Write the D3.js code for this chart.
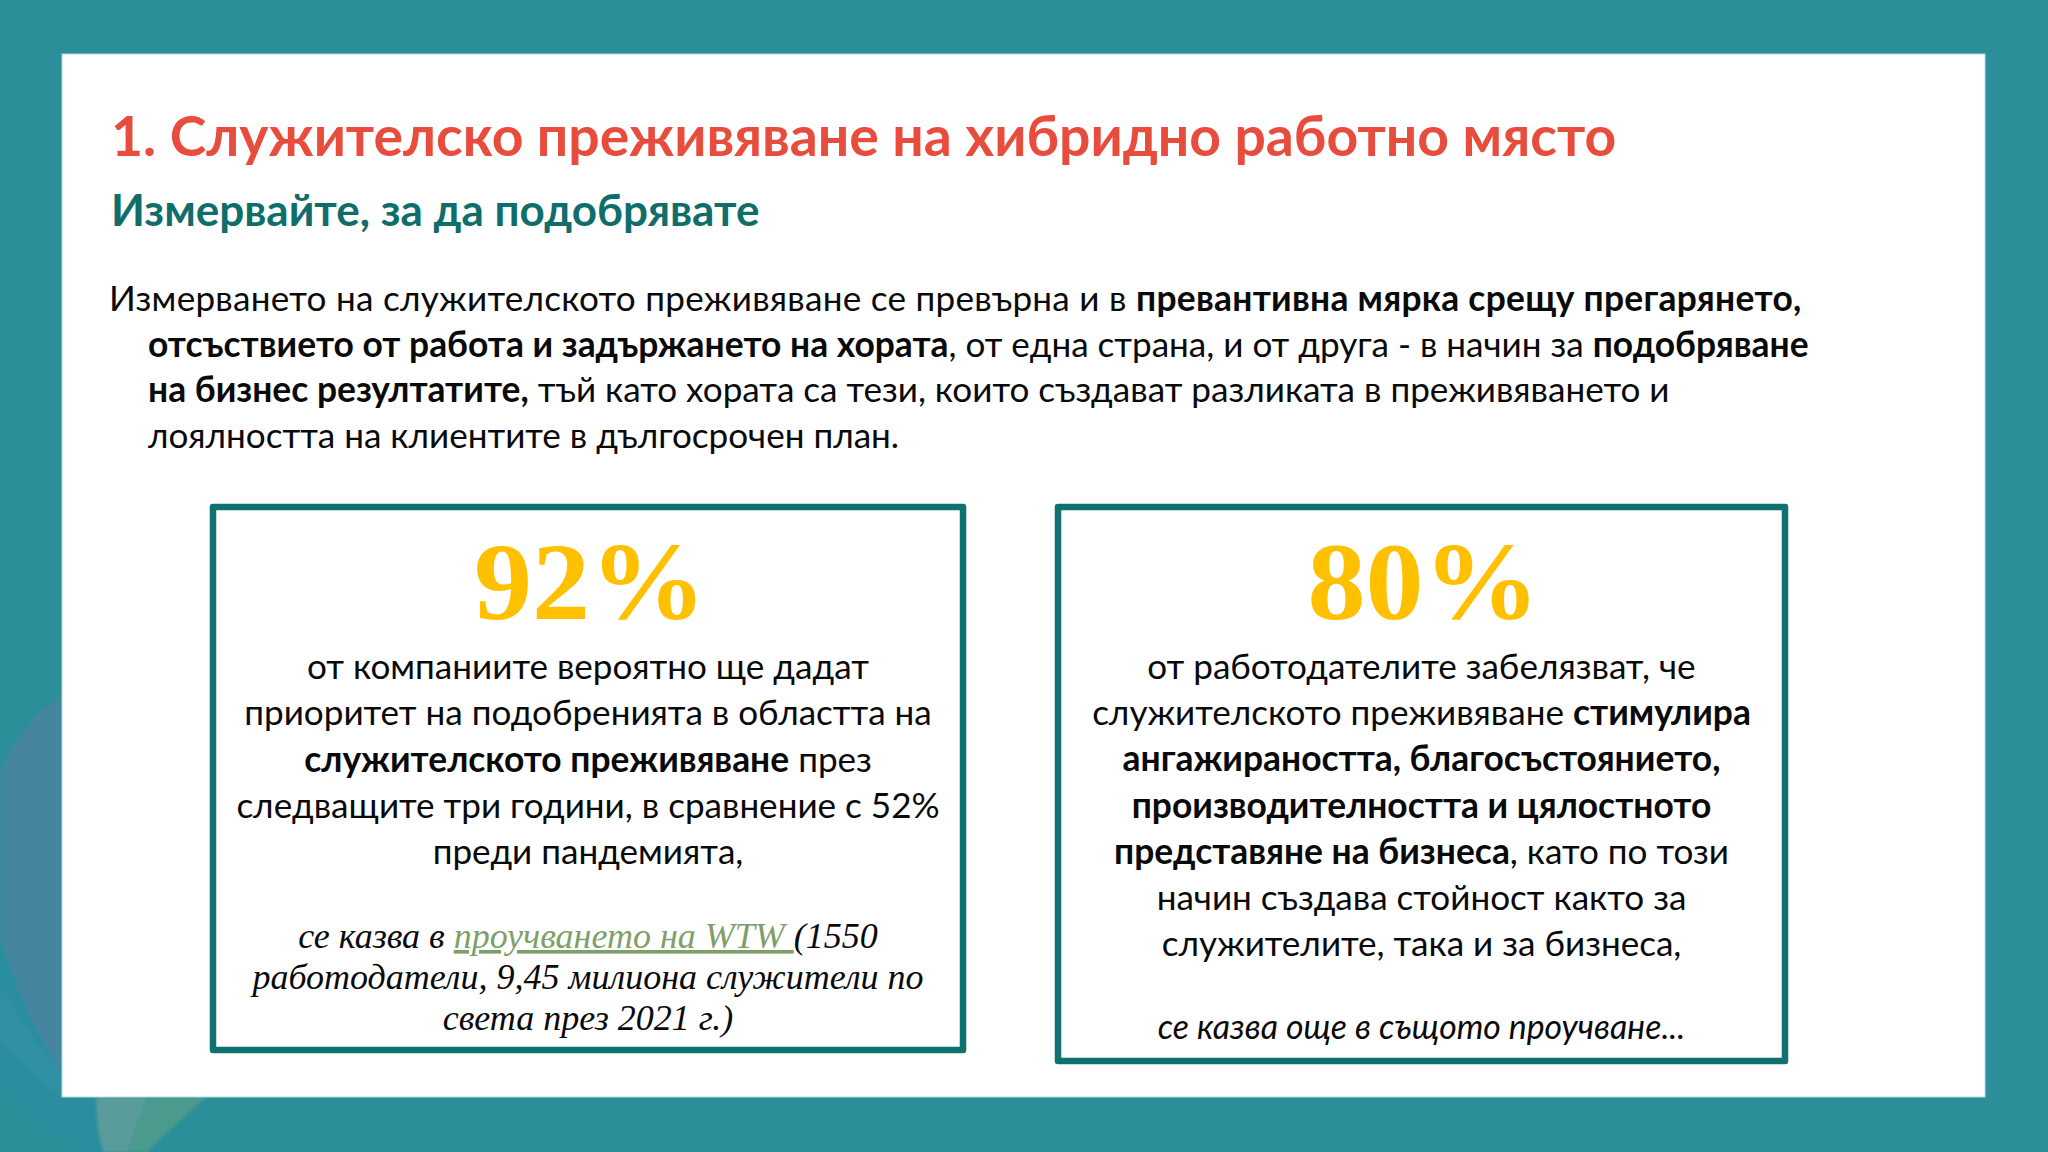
<!DOCTYPE html>
<html lang="bg">
<head>
<meta charset="utf-8">
<script src="https://cdn.jsdelivr.net/npm/d3@7"></script>
<style>
  html, body { margin: 0; padding: 0; background: #2a8f98; }
  svg { display: block; }
  text { font-family: "Lato", "Open Sans", sans-serif; }
</style>
</head>
<body>
<div id="slide"></div>
<script>
var totalWidth = 2048;
var totalHeight = 1152;

// TEXT DATA: [text, style] where style is r(egular), b(old), i(talic), l(ink)
var titleText = "1. Служителско преживяване на хибридно работно място";
var subtitleText = "Измервайте, за да подобрявате";

var bodyLines = [
  [["Измерването на служителското преживяване се превърна и в ", "r"], ["превантивна мярка срещу прегарянето,", "b"]],
  [["отсъствието от работа и задържането на хората", "b"], [", от една страна, и от друга - в начин за ", "r"], ["подобряване", "b"]],
  [["на бизнес резултатите,", "b"], [" тъй като хората са тези, които създават разликата в преживяването и", "r"]],
  [["лоялността на клиентите в дългосрочен план.", "r"]]
];

var statValues = ["92%", "80%"];

var leftCardLines = [
  [["от компаниите вероятно ще дадат", "r"]],
  [["приоритет на подобренията в областта на", "r"]],
  [["служителското преживяване", "b"], [" през", "r"]],
  [["следващите три години, в сравнение с 52%", "r"]],
  [["преди пандемията,", "r"]]
];
var leftCardSource = [
  [["се казва в ", "i"], ["проучването на WTW ", "l"], ["(1550", "i"]],
  [["работодатели, 9,45 милиона служители по", "i"]],
  [["света през 2021 г.)", "i"]]
];

var rightCardLines = [
  [["от работодателите забелязват, че", "r"]],
  [["служителското преживяване ", "r"], ["стимулира", "b"]],
  [["ангажираността, благосъстоянието,", "b"]],
  [["производителността и цялостното", "b"]],
  [["представяне на бизнеса", "b"], [", като по този", "r"]],
  [["начин създава стойност както за", "r"]],
  [["служителите, така и за бизнеса,", "r"]]
];
var rightCardSource = [
  [["се казва още в същото проучване...", "i"]]
];

var white = { x0: 62, x1: 1985, y0: 54, y1: 1097 };
var textSize = 35.1;
var boldSize = 35.4;

var svg = d3.select("#slide").append("svg")
  .attr("width", totalWidth)
  .attr("height", totalHeight);

// BACKGROUND
svg.append("rect").attr("width", totalWidth).attr("height", totalHeight).attr("fill", "#2a8f98");

svg.append("filter").attr("id", "soft")
  .append("feGaussianBlur").attr("stdDeviation", 1.5);

var deco = svg.append("g").attr("id", "deco").attr("filter", "url(#soft)");
deco.append("path").attr("d", "M62,696 C30,715 10,745 0,775 L0,940 C15,990 40,1040 62,1072 Z").attr("fill", "#4585a0");
deco.append("path").attr("d", "M0,938 C20,1000 40,1040 62,1072 L62,1097 L97,1097 C96,1115 98,1135 104,1152 L75,1152 C50,1130 25,1110 0,1090 Z").attr("fill", "#2b8e9f");
deco.append("path").attr("d", "M0,985 C20,1020 40,1050 62,1072 L62,1097 C40,1080 20,1060 0,1040 Z").attr("fill", "#3390a4");
deco.append("path").attr("d", "M97,1097 L147,1097 C140,1115 132,1135 127,1152 L104,1152 C98,1135 96,1115 97,1097 Z").attr("fill", "#5a9c9c");
deco.append("path").attr("d", "M147,1097 L207,1097 C185,1115 165,1135 147,1152 L127,1152 C132,1135 140,1115 147,1097 Z").attr("fill", "#4c9a8e");

svg.append("rect")
  .attr("x", white.x0).attr("y", white.y0)
  .attr("width", white.x1 - white.x0).attr("height", white.y1 - white.y0)
  .attr("fill", "#fff")
  .attr("stroke", "#b4dbe2").attr("stroke-width", 1);

// helper: one rich line as a text with tspans
function drawLine(g, line, x, y, size, anchor, serif) {
  var t = g.append("text")
    .attr("x", x)
    .attr("y", y)
    .attr("font-size", size)
    .attr("text-anchor", anchor)
    .style("white-space", "pre");
  line.forEach(function(seg) {
    var s = t.append("tspan").text(seg[0]).attr("fill", "#0a0a0a");
    if (seg[1] == "b") s.attr("font-weight", 700).attr("font-size", boldSize);
    if (seg[1] == "i" || seg[1] == "l") s.attr("font-style", "italic");
    if (serif) s.style("font-family", "'Liberation Serif', serif");
    if (seg[1] == "l") s.attr("fill", "#7f9f6a").attr("text-decoration", "underline");
  });
  return t;
}

var main = svg.append("g").attr("id", "main");

main.append("text").attr("x", 111).attr("y", 156)
  .attr("font-size", 55.3).attr("font-weight", 700).attr("fill", "#e84c3d").text(titleText);
main.append("text").attr("x", 111).attr("y", 226)
  .attr("font-size", 44).attr("font-weight", 700).attr("fill", "#0f6e6b").text(subtitleText);

// body paragraph, first line hangs left of the others
var bodyY = d3.scaleLinear().domain([0, 3]).range([311, 448]);
bodyLines.forEach(function(line, i) {
  var t = drawLine(main, line, i == 0 ? 109 : 148, bodyY(i), textSize, "start", false);
  // first line runs a bit tighter in this font than in the original
  if (i == 0) t.style("letter-spacing", "0.27px");
});

// CARDS
var cards = [
  { x0: 213, x1: 963, y0: 507, y1: 1050, stat: statValues[0], lines: leftCardLines, lineY: [679, 864], source: leftCardSource, sourceY: [948, 1030], sourceSize: 36, serif: true },
  { x0: 1058, x1: 1785, y0: 507, y1: 1061, stat: statValues[1], lines: rightCardLines, lineY: [679, 956], source: rightCardSource, sourceY: [1039, 1039], sourceSize: 33.8, serif: false }
];

cards.forEach(function(card) {
  var g = main.append("g");
  var cx = (card.x0 + card.x1) / 2;
  g.append("rect")
    .attr("x", card.x0).attr("y", card.y0)
    .attr("width", card.x1 - card.x0).attr("height", card.y1 - card.y0)
    .attr("fill", "#fff").attr("stroke", "#0f7270").attr("stroke-width", 6.5).attr("stroke-linejoin", "round");
  g.append("text").attr("x", cx + 2).attr("y", 619)
    .attr("text-anchor", "middle").attr("font-size", 110).attr("font-weight", 700)
    .attr("textLength", 232).attr("lengthAdjust", "spacingAndGlyphs")
    .attr("fill", "#ffc000").style("font-family", "'Liberation Serif', serif").text(card.stat);

  var y = d3.scaleLinear().domain([0, card.lines.length - 1]).range(card.lineY);
  card.lines.forEach(function(line, i) { drawLine(g, line, cx, y(i), textSize, "middle", false); });

  var sy = d3.scaleLinear().domain([0, Math.max(1, card.source.length - 1)]).range(card.sourceY);
  card.source.forEach(function(line, i) {
    drawLine(g, line, cx, sy(i), card.sourceSize, "middle", card.serif);
  });
});
</script>
</body>
</html>
